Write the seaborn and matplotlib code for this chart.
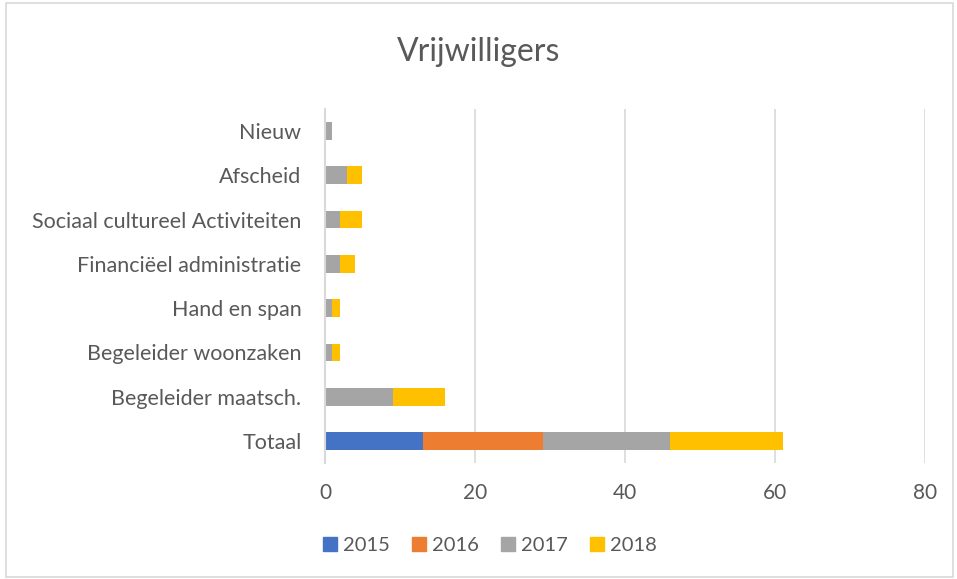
import pandas as pd
import numpy as np
import seaborn as sns
import matplotlib.pyplot as plt
from matplotlib.patches import Rectangle

categories = ["Nieuw", "Afscheid", "Sociaal cultureel Activiteiten",
              "Financiëel administratie", "Hand en span",
              "Begeleider woonzaken", "Begeleider maatsch.", "Totaal"]
years = ["2015", "2016", "2017", "2018"]
v2015 = [0, 0, 0, 0, 0, 0, 0, 13]
v2016 = [0, 0, 0, 0, 0, 0, 0, 16]
v2017 = [1, 3, 2, 2, 1, 1, 9, 17]
v2018 = [0, 2, 3, 2, 1, 1, 7, 15]
colors = ["#4472C4", "#ED7D31", "#A5A5A5", "#FFC000"]

sns.set_style("white")
plt.rcParams["font.family"] = ["Lato", "DejaVu Sans"]
txt = "#595959"

df = pd.DataFrame({"cat": categories, "2015": v2015, "2016": v2016,
                   "2017": v2017, "2018": v2018})
cum = df[years].cumsum(axis=1)

fig = plt.figure(figsize=(9.57, 5.79), dpi=100)
ax = fig.add_axes([0.3396, 0.2, 0.6270, 0.612])

# draw cumulative totals, largest first so the smaller ones sit on top
for yr, col in reversed(list(zip(years, colors))):
    sns.barplot(x=cum[yr], y=df["cat"], color=col, width=0.4,
                orient="h", ax=ax, saturation=1, linewidth=0)

ax.set_xlim(0, 80)
ax.set_xticks([0, 20, 40, 60, 80])
ax.set_xlabel("")
ax.set_ylabel("")
ax.grid(axis="x", color="#d9d9d9", linewidth=1.2)
ax.set_axisbelow(True)
for s in ["top", "right", "bottom"]:
    ax.spines[s].set_visible(False)
ax.spines["left"].set_color("#d9d9d9")
ax.spines["left"].set_linewidth(1.5)
ax.tick_params(axis="y", length=0, colors=txt, labelsize=15.5, pad=17)
ax.tick_params(axis="x", length=0, colors=txt, labelsize=15, pad=14)

fig.text(0.5, 0.91, "Vrijwilligers", ha="center", va="center",
         fontsize=23, color=txt)

handles = [Rectangle((0, 0), 1, 1, color=c) for c in colors]
fig.legend(handles, years, loc="center", bbox_to_anchor=(0.512, 0.058), ncol=4,
           frameon=False, fontsize=14.5, labelcolor=txt, handlelength=0.7,
           handleheight=0.7, handletextpad=0.3, columnspacing=1.1)

fig.patches.append(Rectangle((0.006, 0.004), 0.99, 0.99, transform=fig.transFigure,
                             fill=False, edgecolor="#d9d9d9", linewidth=1.2))

fig.savefig("out.png", dpi=100)
